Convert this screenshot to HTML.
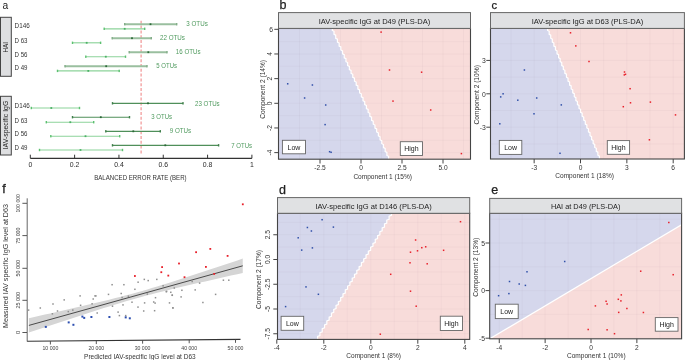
<!DOCTYPE html><html><head><meta charset="utf-8"><style>html,body{margin:0;padding:0;background:#fff;}svg{display:block;will-change:transform;}</style></head><body>
<svg width="685" height="360" viewBox="0 0 685 360" font-family='"Liberation Sans", sans-serif'>
<rect width="685" height="360" fill="#fff"/>
<text x="2.5" y="8.7" font-size="11.8" fill="#222" text-anchor="start" textLength="5.7" lengthAdjust="spacingAndGlyphs">a</text>
<rect x="0.5" y="17.3" width="10.8" height="59.0" fill="#dedfe1" stroke="#444" stroke-width="1"/>
<text x="8.2" y="47.2" font-size="7.0" fill="#222" text-anchor="middle" textLength="10.4" lengthAdjust="spacingAndGlyphs" transform="rotate(-90 8.2 47.2)">HAI</text>
<rect x="0.5" y="96.3" width="10.8" height="58.7" fill="#dedfe1" stroke="#444" stroke-width="1"/>
<text x="8.2" y="125.0" font-size="7.2" fill="#222" text-anchor="middle" textLength="48.6" lengthAdjust="spacingAndGlyphs" transform="rotate(-90 8.2 125.0)">IAV-specific IgG</text>
<text x="14.6" y="28.0" font-size="7.0" fill="#333" text-anchor="start" textLength="15.1" lengthAdjust="spacingAndGlyphs">D146</text>
<text x="14.6" y="42.8" font-size="7.0" fill="#333" text-anchor="start" textLength="12.9" lengthAdjust="spacingAndGlyphs">D 63</text>
<text x="14.6" y="56.7" font-size="7.0" fill="#333" text-anchor="start" textLength="12.9" lengthAdjust="spacingAndGlyphs">D 56</text>
<text x="14.6" y="70.0" font-size="7.0" fill="#333" text-anchor="start" textLength="12.9" lengthAdjust="spacingAndGlyphs">D 49</text>
<text x="14.6" y="108.0" font-size="7.0" fill="#333" text-anchor="start" textLength="15.1" lengthAdjust="spacingAndGlyphs">D146</text>
<text x="14.6" y="122.8" font-size="7.0" fill="#333" text-anchor="start" textLength="12.9" lengthAdjust="spacingAndGlyphs">D 63</text>
<text x="14.6" y="136.3" font-size="7.0" fill="#333" text-anchor="start" textLength="12.9" lengthAdjust="spacingAndGlyphs">D 56</text>
<text x="14.6" y="150.0" font-size="7.0" fill="#333" text-anchor="start" textLength="12.9" lengthAdjust="spacingAndGlyphs">D 49</text>
<line x1="30.3" y1="158.3" x2="251.9" y2="158.3" stroke="#333" stroke-width="1.3"/>
<line x1="30.3" y1="158.3" x2="30.3" y2="154.70000000000002" stroke="#333" stroke-width="1"/>
<text x="30.3" y="167.1" font-size="6.9" fill="#2a2a2a" text-anchor="middle">0</text>
<line x1="74.62" y1="158.3" x2="74.62" y2="154.70000000000002" stroke="#333" stroke-width="1"/>
<text x="74.62" y="167.1" font-size="6.9" fill="#2a2a2a" text-anchor="middle">0.2</text>
<line x1="118.94" y1="158.3" x2="118.94" y2="154.70000000000002" stroke="#333" stroke-width="1"/>
<text x="118.94" y="167.1" font-size="6.9" fill="#2a2a2a" text-anchor="middle">0.4</text>
<line x1="163.26" y1="158.3" x2="163.26" y2="154.70000000000002" stroke="#333" stroke-width="1"/>
<text x="163.26" y="167.1" font-size="6.9" fill="#2a2a2a" text-anchor="middle">0.6</text>
<line x1="207.58" y1="158.3" x2="207.58" y2="154.70000000000002" stroke="#333" stroke-width="1"/>
<text x="207.58" y="167.1" font-size="6.9" fill="#2a2a2a" text-anchor="middle">0.8</text>
<line x1="251.9" y1="158.3" x2="251.9" y2="154.70000000000002" stroke="#333" stroke-width="1"/>
<text x="251.9" y="167.1" font-size="6.9" fill="#2a2a2a" text-anchor="middle">1</text>
<text x="140.4" y="179.8" font-size="6.4" fill="#333" text-anchor="middle" textLength="92.5" lengthAdjust="spacingAndGlyphs">BALANCED ERROR RATE (BER)</text>
<line x1="141.1" y1="20.8" x2="141.1" y2="155" stroke="#f08a8a" stroke-width="1.1" stroke-dasharray="3 1.8"/>
<line x1="124.7" y1="24.2" x2="176.7" y2="24.2" stroke="#9abf9f" stroke-width="1.9"/>
<rect x="124.0" y="23.0" width="1.4" height="2.4" fill="#82ad88"/>
<rect x="176.0" y="23.0" width="1.4" height="2.4" fill="#82ad88"/>
<rect x="149.6" y="23.3" width="1.8" height="1.8" fill="#2e6b3a"/>
<line x1="104.2" y1="28.8" x2="144.7" y2="28.8" stroke="#8cd39a" stroke-width="1.15"/>
<rect x="103.5" y="27.6" width="1.4" height="2.4" fill="#5cc070"/>
<rect x="144.0" y="27.6" width="1.4" height="2.4" fill="#5cc070"/>
<rect x="123.8" y="27.900000000000002" width="1.8" height="1.8" fill="#4cb066"/>
<line x1="112.2" y1="38.2" x2="151.3" y2="38.2" stroke="#9abf9f" stroke-width="1.9"/>
<rect x="111.5" y="37.0" width="1.4" height="2.4" fill="#82ad88"/>
<rect x="150.60000000000002" y="37.0" width="1.4" height="2.4" fill="#82ad88"/>
<rect x="131.1" y="37.300000000000004" width="1.8" height="1.8" fill="#2e6b3a"/>
<line x1="72.5" y1="42.8" x2="100.6" y2="42.8" stroke="#8cd39a" stroke-width="1.15"/>
<rect x="71.8" y="41.599999999999994" width="1.4" height="2.4" fill="#5cc070"/>
<rect x="99.89999999999999" y="41.599999999999994" width="1.4" height="2.4" fill="#5cc070"/>
<rect x="85.8" y="41.9" width="1.8" height="1.8" fill="#4cb066"/>
<line x1="129.2" y1="52.2" x2="167.0" y2="52.2" stroke="#9abf9f" stroke-width="1.9"/>
<rect x="128.5" y="51.0" width="1.4" height="2.4" fill="#82ad88"/>
<rect x="166.3" y="51.0" width="1.4" height="2.4" fill="#82ad88"/>
<rect x="147.4" y="51.300000000000004" width="1.8" height="1.8" fill="#2e6b3a"/>
<line x1="85.8" y1="56.7" x2="125.5" y2="56.7" stroke="#8cd39a" stroke-width="1.15"/>
<rect x="85.1" y="55.5" width="1.4" height="2.4" fill="#5cc070"/>
<rect x="124.8" y="55.5" width="1.4" height="2.4" fill="#5cc070"/>
<rect x="104.89999999999999" y="55.800000000000004" width="1.8" height="1.8" fill="#4cb066"/>
<line x1="65.0" y1="66.2" x2="147.0" y2="66.2" stroke="#9abf9f" stroke-width="1.9"/>
<rect x="64.3" y="65.0" width="1.4" height="2.4" fill="#82ad88"/>
<rect x="146.3" y="65.0" width="1.4" height="2.4" fill="#82ad88"/>
<rect x="105.3" y="65.3" width="1.8" height="1.8" fill="#2e6b3a"/>
<line x1="57.5" y1="70.9" x2="119.2" y2="70.9" stroke="#8cd39a" stroke-width="1.15"/>
<rect x="56.8" y="69.7" width="1.4" height="2.4" fill="#5cc070"/>
<rect x="118.5" y="69.7" width="1.4" height="2.4" fill="#5cc070"/>
<rect x="87.39999999999999" y="70.0" width="1.8" height="1.8" fill="#4cb066"/>
<line x1="112.5" y1="103.3" x2="183.0" y2="103.3" stroke="#4f8f5a" stroke-width="1.15"/>
<rect x="111.8" y="102.1" width="1.4" height="2.4" fill="#3f7f4a"/>
<rect x="182.3" y="102.1" width="1.4" height="2.4" fill="#3f7f4a"/>
<rect x="147.1" y="102.39999999999999" width="1.8" height="1.8" fill="#2a6636"/>
<line x1="31.3" y1="108.0" x2="79.5" y2="108.0" stroke="#8cd39a" stroke-width="1.15"/>
<rect x="30.6" y="106.8" width="1.4" height="2.4" fill="#5cc070"/>
<rect x="78.8" y="106.8" width="1.4" height="2.4" fill="#5cc070"/>
<rect x="50.4" y="107.1" width="1.8" height="1.8" fill="#4cb066"/>
<line x1="72.5" y1="117.2" x2="129.5" y2="117.2" stroke="#4f8f5a" stroke-width="1.15"/>
<rect x="71.8" y="116.0" width="1.4" height="2.4" fill="#3f7f4a"/>
<rect x="128.8" y="116.0" width="1.4" height="2.4" fill="#3f7f4a"/>
<rect x="99.89999999999999" y="116.3" width="1.8" height="1.8" fill="#2a6636"/>
<line x1="46.3" y1="122.2" x2="93.7" y2="122.2" stroke="#8cd39a" stroke-width="1.15"/>
<rect x="45.599999999999994" y="121.0" width="1.4" height="2.4" fill="#5cc070"/>
<rect x="93.0" y="121.0" width="1.4" height="2.4" fill="#5cc070"/>
<rect x="69.39999999999999" y="121.3" width="1.8" height="1.8" fill="#4cb066"/>
<line x1="105.8" y1="131.3" x2="160.3" y2="131.3" stroke="#4f8f5a" stroke-width="1.15"/>
<rect x="105.1" y="130.10000000000002" width="1.4" height="2.4" fill="#3f7f4a"/>
<rect x="159.60000000000002" y="130.10000000000002" width="1.4" height="2.4" fill="#3f7f4a"/>
<rect x="132.4" y="130.4" width="1.8" height="1.8" fill="#2a6636"/>
<line x1="50.8" y1="136.2" x2="119.7" y2="136.2" stroke="#8cd39a" stroke-width="1.15"/>
<rect x="50.099999999999994" y="135.0" width="1.4" height="2.4" fill="#5cc070"/>
<rect x="119.0" y="135.0" width="1.4" height="2.4" fill="#5cc070"/>
<rect x="84.6" y="135.29999999999998" width="1.8" height="1.8" fill="#4cb066"/>
<line x1="112.5" y1="145.3" x2="218.6" y2="145.3" stroke="#4f8f5a" stroke-width="1.15"/>
<rect x="111.8" y="144.10000000000002" width="1.4" height="2.4" fill="#3f7f4a"/>
<rect x="217.9" y="144.10000000000002" width="1.4" height="2.4" fill="#3f7f4a"/>
<rect x="164.4" y="144.4" width="1.8" height="1.8" fill="#2a6636"/>
<line x1="39.5" y1="150.0" x2="122.5" y2="150.0" stroke="#8cd39a" stroke-width="1.15"/>
<rect x="38.8" y="148.8" width="1.4" height="2.4" fill="#5cc070"/>
<rect x="121.8" y="148.8" width="1.4" height="2.4" fill="#5cc070"/>
<rect x="79.6" y="149.1" width="1.8" height="1.8" fill="#4cb066"/>
<text x="186.3" y="26.099999999999998" font-size="6.7" fill="#4f9a5e" text-anchor="start" textLength="21.5" lengthAdjust="spacingAndGlyphs">3 OTUs</text>
<text x="160.0" y="40.0" font-size="6.7" fill="#4f9a5e" text-anchor="start" textLength="25.0" lengthAdjust="spacingAndGlyphs">22 OTUs</text>
<text x="175.8" y="53.9" font-size="6.7" fill="#4f9a5e" text-anchor="start" textLength="24.7" lengthAdjust="spacingAndGlyphs">16 OTUs</text>
<text x="156.3" y="68.30000000000001" font-size="6.7" fill="#4f9a5e" text-anchor="start" textLength="20.7" lengthAdjust="spacingAndGlyphs">5 OTUs</text>
<text x="195.0" y="105.7" font-size="6.7" fill="#4f9a5e" text-anchor="start" textLength="24.7" lengthAdjust="spacingAndGlyphs">23 OTUs</text>
<text x="151.3" y="119.10000000000001" font-size="6.7" fill="#4f9a5e" text-anchor="start" textLength="20.7" lengthAdjust="spacingAndGlyphs">3 OTUs</text>
<text x="169.7" y="133.1" font-size="6.7" fill="#4f9a5e" text-anchor="start" textLength="21.5" lengthAdjust="spacingAndGlyphs">9 OTUs</text>
<text x="231.3" y="147.6" font-size="6.7" fill="#4f9a5e" text-anchor="start" textLength="20.8" lengthAdjust="spacingAndGlyphs">7 OTUs</text>
<text x="279.6" y="9.0" font-size="12.5" fill="#222" text-anchor="start" stroke="#222" stroke-width="0.25">b</text>
<clipPath id="cb"><rect x="278.5" y="28.4" width="192.0" height="130.79999999999998"/></clipPath>
<g clip-path="url(#cb)">
<rect x="278.5" y="28.4" width="192.0" height="130.79999999999998" fill="#f8dcda"/>
<polygon points="278.50,27.40 332.30,27.40 332.30,30.45 334.01,31.31 334.01,34.35 335.71,35.21 335.71,38.26 337.42,39.12 337.42,42.16 339.12,43.02 339.12,46.07 340.83,46.93 340.83,49.98 342.54,50.84 342.54,53.88 344.24,54.74 344.24,57.79 345.95,58.65 345.95,61.69 347.65,62.55 347.65,65.60 349.36,66.46 349.36,69.51 351.06,70.36 351.06,73.41 352.77,74.27 352.77,77.32 354.48,78.18 354.48,81.22 356.18,82.08 356.18,85.13 357.89,85.99 357.89,89.03 359.59,89.89 359.59,92.94 361.30,93.80 361.30,96.85 363.01,97.71 363.01,100.75 364.71,101.61 364.71,104.66 366.42,105.52 366.42,108.56 368.12,109.42 368.12,112.47 369.83,113.33 369.83,116.38 371.54,117.24 371.54,120.28 373.24,121.14 373.24,124.19 374.95,125.05 374.95,128.09 376.65,128.95 376.65,132.00 378.36,132.86 378.36,135.91 380.06,136.76 380.06,139.81 381.77,140.67 381.77,143.72 383.48,144.58 383.48,147.62 385.18,148.48 385.18,151.53 386.89,152.39 386.89,155.43 388.59,156.29 388.59,159.34 390.30,160.20 278.50,160.20" fill="#d5d7ec"/>
<line x1="299.50" y1="28.4" x2="299.50" y2="159.2" stroke="rgba(110,100,110,0.055)" stroke-width="0.8"/>
<line x1="320.00" y1="28.4" x2="320.00" y2="159.2" stroke="rgba(110,100,110,0.055)" stroke-width="0.8"/>
<line x1="340.50" y1="28.4" x2="340.50" y2="159.2" stroke="rgba(110,100,110,0.055)" stroke-width="0.8"/>
<line x1="361.00" y1="28.4" x2="361.00" y2="159.2" stroke="rgba(110,100,110,0.055)" stroke-width="0.8"/>
<line x1="381.50" y1="28.4" x2="381.50" y2="159.2" stroke="rgba(110,100,110,0.055)" stroke-width="0.8"/>
<line x1="402.00" y1="28.4" x2="402.00" y2="159.2" stroke="rgba(110,100,110,0.055)" stroke-width="0.8"/>
<line x1="422.50" y1="28.4" x2="422.50" y2="159.2" stroke="rgba(110,100,110,0.055)" stroke-width="0.8"/>
<line x1="443.00" y1="28.4" x2="443.00" y2="159.2" stroke="rgba(110,100,110,0.055)" stroke-width="0.8"/>
<line x1="463.50" y1="28.4" x2="463.50" y2="159.2" stroke="rgba(110,100,110,0.055)" stroke-width="0.8"/>
<line x1="278.5" y1="164.95" x2="470.5" y2="164.95" stroke="rgba(110,100,110,0.055)" stroke-width="0.8"/>
<line x1="278.5" y1="152.62" x2="470.5" y2="152.62" stroke="rgba(110,100,110,0.055)" stroke-width="0.8"/>
<line x1="278.5" y1="140.29" x2="470.5" y2="140.29" stroke="rgba(110,100,110,0.055)" stroke-width="0.8"/>
<line x1="278.5" y1="127.96" x2="470.5" y2="127.96" stroke="rgba(110,100,110,0.055)" stroke-width="0.8"/>
<line x1="278.5" y1="115.63" x2="470.5" y2="115.63" stroke="rgba(110,100,110,0.055)" stroke-width="0.8"/>
<line x1="278.5" y1="103.30" x2="470.5" y2="103.30" stroke="rgba(110,100,110,0.055)" stroke-width="0.8"/>
<line x1="278.5" y1="90.97" x2="470.5" y2="90.97" stroke="rgba(110,100,110,0.055)" stroke-width="0.8"/>
<line x1="278.5" y1="78.64" x2="470.5" y2="78.64" stroke="rgba(110,100,110,0.055)" stroke-width="0.8"/>
<line x1="278.5" y1="66.31" x2="470.5" y2="66.31" stroke="rgba(110,100,110,0.055)" stroke-width="0.8"/>
<line x1="278.5" y1="53.98" x2="470.5" y2="53.98" stroke="rgba(110,100,110,0.055)" stroke-width="0.8"/>
<line x1="278.5" y1="41.65" x2="470.5" y2="41.65" stroke="rgba(110,100,110,0.055)" stroke-width="0.8"/>
<line x1="278.5" y1="29.32" x2="470.5" y2="29.32" stroke="rgba(110,100,110,0.055)" stroke-width="0.8"/>
<polyline points="332.30,27.40 332.30,30.45 334.01,31.31 334.01,34.35 335.71,35.21 335.71,38.26 337.42,39.12 337.42,42.16 339.12,43.02 339.12,46.07 340.83,46.93 340.83,49.98 342.54,50.84 342.54,53.88 344.24,54.74 344.24,57.79 345.95,58.65 345.95,61.69 347.65,62.55 347.65,65.60 349.36,66.46 349.36,69.51 351.06,70.36 351.06,73.41 352.77,74.27 352.77,77.32 354.48,78.18 354.48,81.22 356.18,82.08 356.18,85.13 357.89,85.99 357.89,89.03 359.59,89.89 359.59,92.94 361.30,93.80 361.30,96.85 363.01,97.71 363.01,100.75 364.71,101.61 364.71,104.66 366.42,105.52 366.42,108.56 368.12,109.42 368.12,112.47 369.83,113.33 369.83,116.38 371.54,117.24 371.54,120.28 373.24,121.14 373.24,124.19 374.95,125.05 374.95,128.09 376.65,128.95 376.65,132.00 378.36,132.86 378.36,135.91 380.06,136.76 380.06,139.81 381.77,140.67 381.77,143.72 383.48,144.58 383.48,147.62 385.18,148.48 385.18,151.53 386.89,152.39 386.89,155.43 388.59,156.29 388.59,159.34 390.30,160.20" fill="none" stroke="#fff" stroke-width="1.2" stroke-linejoin="miter"/>
<rect x="286.95" y="83.05" width="1.5" height="1.5" fill="#2f4fa8"/>
<rect x="311.65" y="84.25" width="1.5" height="1.5" fill="#2f4fa8"/>
<rect x="303.85" y="97.25" width="1.5" height="1.5" fill="#2f4fa8"/>
<rect x="324.95" y="104.25" width="1.5" height="1.5" fill="#2f4fa8"/>
<rect x="324.35" y="123.85" width="1.5" height="1.5" fill="#2f4fa8"/>
<rect x="328.85" y="150.95" width="1.5" height="1.5" fill="#2f4fa8"/>
<rect x="330.35" y="151.55" width="1.5" height="1.5" fill="#2f4fa8"/>
<rect x="380.35" y="31.35" width="1.5" height="1.5" fill="#e8202a"/>
<rect x="388.75" y="69.25" width="1.5" height="1.5" fill="#e8202a"/>
<rect x="420.85" y="71.45" width="1.5" height="1.5" fill="#e8202a"/>
<rect x="392.25" y="100.35" width="1.5" height="1.5" fill="#e8202a"/>
<rect x="429.95" y="109.25" width="1.5" height="1.5" fill="#e8202a"/>
<rect x="460.65" y="152.85" width="1.5" height="1.5" fill="#e8202a"/>
<rect x="282.4" y="140.3" width="23.100000000000023" height="13.5" fill="#fff" stroke="#666" stroke-width="0.9"/>
<text x="293.95" y="149.55" font-size="7.0" fill="#222" text-anchor="middle">Low</text>
<rect x="400.3" y="141.7" width="22.19999999999999" height="13.800000000000011" fill="#fff" stroke="#666" stroke-width="0.9"/>
<text x="411.4" y="151.1" font-size="7.0" fill="#222" text-anchor="middle">High</text>
</g>
<rect x="278.5" y="28.4" width="192.0" height="130.79999999999998" fill="none" stroke="#444" stroke-width="1.1"/>
<rect x="278.5" y="12.6" width="192.0" height="15.799999999999999" fill="#e0e1e3" stroke="#666" stroke-width="1"/>
<text x="374.5" y="23.6" font-size="7.7" fill="#222" text-anchor="middle" textLength="111.7" lengthAdjust="spacingAndGlyphs">IAV-specific IgG at D49 (PLS-DA)</text>
<line x1="320.00" y1="159.2" x2="320.00" y2="163.5" stroke="#444" stroke-width="1"/>
<text x="320.0" y="170.0" font-size="6.6" fill="#333" text-anchor="middle">-2.5</text>
<line x1="361.00" y1="159.2" x2="361.00" y2="163.5" stroke="#444" stroke-width="1"/>
<text x="361.0" y="170.0" font-size="6.6" fill="#333" text-anchor="middle">0</text>
<line x1="402.00" y1="159.2" x2="402.00" y2="163.5" stroke="#444" stroke-width="1"/>
<text x="402.0" y="170.0" font-size="6.6" fill="#333" text-anchor="middle">2.5</text>
<line x1="443.00" y1="159.2" x2="443.00" y2="163.5" stroke="#444" stroke-width="1"/>
<text x="443.0" y="170.0" font-size="6.6" fill="#333" text-anchor="middle">5.0</text>
<line x1="274.3" y1="29.32" x2="278.5" y2="29.32" stroke="#444" stroke-width="1"/>
<text x="273.1" y="32.02" font-size="6.8" fill="#333" text-anchor="end">6</text>
<line x1="274.3" y1="53.98" x2="278.5" y2="53.98" stroke="#444" stroke-width="1"/>
<text x="272.2" y="53.98" font-size="6.6" fill="#333" text-anchor="middle" transform="rotate(-90 272.2 53.98)">4</text>
<line x1="274.3" y1="78.64" x2="278.5" y2="78.64" stroke="#444" stroke-width="1"/>
<text x="272.2" y="78.64" font-size="6.6" fill="#333" text-anchor="middle" transform="rotate(-90 272.2 78.64)">2</text>
<line x1="274.3" y1="103.30" x2="278.5" y2="103.30" stroke="#444" stroke-width="1"/>
<text x="272.2" y="103.3" font-size="6.6" fill="#333" text-anchor="middle" transform="rotate(-90 272.2 103.3)">0</text>
<line x1="274.3" y1="127.96" x2="278.5" y2="127.96" stroke="#444" stroke-width="1"/>
<text x="272.2" y="127.96" font-size="6.6" fill="#333" text-anchor="middle" transform="rotate(-90 272.2 127.96)">-2</text>
<line x1="274.3" y1="152.62" x2="278.5" y2="152.62" stroke="#444" stroke-width="1"/>
<text x="272.2" y="152.62" font-size="6.6" fill="#333" text-anchor="middle" transform="rotate(-90 272.2 152.62)">-4</text>
<text x="382.7" y="178.8" font-size="7.2" fill="#333" text-anchor="middle" textLength="58.6" lengthAdjust="spacingAndGlyphs">Component 1 (15%)</text>
<text x="265.3" y="89.4" font-size="7.2" fill="#333" text-anchor="middle" textLength="58.8" lengthAdjust="spacingAndGlyphs" transform="rotate(-90 265.3 89.4)">Component 2 (14%)</text>
<text x="491.5" y="9.2" font-size="11.2" fill="#222" text-anchor="start" stroke="#222" stroke-width="0.25">c</text>
<clipPath id="cc"><rect x="490.5" y="28.4" width="193.89999999999998" height="130.6"/></clipPath>
<g clip-path="url(#cc)">
<rect x="490.5" y="28.4" width="193.89999999999998" height="130.6" fill="#f8dcda"/>
<polygon points="490.50,27.40 547.60,27.40 547.60,30.44 549.17,31.30 549.17,34.34 550.74,35.20 550.74,38.24 552.31,39.10 552.31,42.14 553.88,43.00 553.88,46.04 555.45,46.90 555.45,49.94 557.02,50.80 557.02,53.84 558.59,54.70 558.59,57.74 560.16,58.60 560.16,61.64 561.74,62.50 561.74,65.54 563.31,66.40 563.31,69.44 564.88,70.30 564.88,73.34 566.45,74.20 566.45,77.24 568.02,78.10 568.02,81.14 569.59,82.00 569.59,85.04 571.16,85.90 571.16,88.94 572.73,89.80 572.73,92.84 574.30,93.70 574.30,96.74 575.87,97.60 575.87,100.64 577.44,101.50 577.44,104.54 579.01,105.40 579.01,108.44 580.58,109.30 580.58,112.34 582.15,113.20 582.15,116.24 583.72,117.10 583.72,120.14 585.29,121.00 585.29,124.04 586.86,124.90 586.86,127.94 588.44,128.80 588.44,131.84 590.01,132.70 590.01,135.74 591.58,136.60 591.58,139.64 593.15,140.50 593.15,143.54 594.72,144.40 594.72,147.44 596.29,148.30 596.29,151.34 597.86,152.20 597.86,155.24 599.43,156.10 599.43,159.14 601.00,160.00 490.50,160.00" fill="#d5d7ec"/>
<line x1="510.98" y1="28.4" x2="510.98" y2="159.0" stroke="rgba(110,100,110,0.055)" stroke-width="0.8"/>
<line x1="534.15" y1="28.4" x2="534.15" y2="159.0" stroke="rgba(110,100,110,0.055)" stroke-width="0.8"/>
<line x1="557.33" y1="28.4" x2="557.33" y2="159.0" stroke="rgba(110,100,110,0.055)" stroke-width="0.8"/>
<line x1="580.50" y1="28.4" x2="580.50" y2="159.0" stroke="rgba(110,100,110,0.055)" stroke-width="0.8"/>
<line x1="603.67" y1="28.4" x2="603.67" y2="159.0" stroke="rgba(110,100,110,0.055)" stroke-width="0.8"/>
<line x1="626.85" y1="28.4" x2="626.85" y2="159.0" stroke="rgba(110,100,110,0.055)" stroke-width="0.8"/>
<line x1="650.02" y1="28.4" x2="650.02" y2="159.0" stroke="rgba(110,100,110,0.055)" stroke-width="0.8"/>
<line x1="673.20" y1="28.4" x2="673.20" y2="159.0" stroke="rgba(110,100,110,0.055)" stroke-width="0.8"/>
<line x1="490.5" y1="160.58" x2="684.4" y2="160.58" stroke="rgba(110,100,110,0.055)" stroke-width="0.8"/>
<line x1="490.5" y1="143.88" x2="684.4" y2="143.88" stroke="rgba(110,100,110,0.055)" stroke-width="0.8"/>
<line x1="490.5" y1="127.19" x2="684.4" y2="127.19" stroke="rgba(110,100,110,0.055)" stroke-width="0.8"/>
<line x1="490.5" y1="110.50" x2="684.4" y2="110.50" stroke="rgba(110,100,110,0.055)" stroke-width="0.8"/>
<line x1="490.5" y1="93.80" x2="684.4" y2="93.80" stroke="rgba(110,100,110,0.055)" stroke-width="0.8"/>
<line x1="490.5" y1="77.10" x2="684.4" y2="77.10" stroke="rgba(110,100,110,0.055)" stroke-width="0.8"/>
<line x1="490.5" y1="60.41" x2="684.4" y2="60.41" stroke="rgba(110,100,110,0.055)" stroke-width="0.8"/>
<line x1="490.5" y1="43.71" x2="684.4" y2="43.71" stroke="rgba(110,100,110,0.055)" stroke-width="0.8"/>
<line x1="490.5" y1="27.02" x2="684.4" y2="27.02" stroke="rgba(110,100,110,0.055)" stroke-width="0.8"/>
<polyline points="547.60,27.40 547.60,30.44 549.17,31.30 549.17,34.34 550.74,35.20 550.74,38.24 552.31,39.10 552.31,42.14 553.88,43.00 553.88,46.04 555.45,46.90 555.45,49.94 557.02,50.80 557.02,53.84 558.59,54.70 558.59,57.74 560.16,58.60 560.16,61.64 561.74,62.50 561.74,65.54 563.31,66.40 563.31,69.44 564.88,70.30 564.88,73.34 566.45,74.20 566.45,77.24 568.02,78.10 568.02,81.14 569.59,82.00 569.59,85.04 571.16,85.90 571.16,88.94 572.73,89.80 572.73,92.84 574.30,93.70 574.30,96.74 575.87,97.60 575.87,100.64 577.44,101.50 577.44,104.54 579.01,105.40 579.01,108.44 580.58,109.30 580.58,112.34 582.15,113.20 582.15,116.24 583.72,117.10 583.72,120.14 585.29,121.00 585.29,124.04 586.86,124.90 586.86,127.94 588.44,128.80 588.44,131.84 590.01,132.70 590.01,135.74 591.58,136.60 591.58,139.64 593.15,140.50 593.15,143.54 594.72,144.40 594.72,147.44 596.29,148.30 596.29,151.34 597.86,152.20 597.86,155.24 599.43,156.10 599.43,159.14 601.00,160.00" fill="none" stroke="#fff" stroke-width="1.2" stroke-linejoin="miter"/>
<rect x="523.65" y="69.25" width="1.5" height="1.5" fill="#2f4fa8"/>
<rect x="502.35" y="93.05" width="1.5" height="1.5" fill="#2f4fa8"/>
<rect x="499.95" y="96.15" width="1.5" height="1.5" fill="#2f4fa8"/>
<rect x="517.05" y="99.45" width="1.5" height="1.5" fill="#2f4fa8"/>
<rect x="535.95" y="97.25" width="1.5" height="1.5" fill="#2f4fa8"/>
<rect x="560.55" y="104.15" width="1.5" height="1.5" fill="#2f4fa8"/>
<rect x="533.25" y="113.05" width="1.5" height="1.5" fill="#2f4fa8"/>
<rect x="499.05" y="123.05" width="1.5" height="1.5" fill="#2f4fa8"/>
<rect x="559.25" y="152.55" width="1.5" height="1.5" fill="#2f4fa8"/>
<rect x="569.75" y="32.05" width="1.5" height="1.5" fill="#e8202a"/>
<rect x="575.05" y="45.15" width="1.5" height="1.5" fill="#e8202a"/>
<rect x="588.25" y="60.75" width="1.5" height="1.5" fill="#e8202a"/>
<rect x="623.75" y="71.25" width="1.5" height="1.5" fill="#e8202a"/>
<rect x="624.75" y="73.55" width="1.5" height="1.5" fill="#e8202a"/>
<rect x="623.55" y="74.15" width="1.5" height="1.5" fill="#e8202a"/>
<rect x="629.35" y="87.95" width="1.5" height="1.5" fill="#e8202a"/>
<rect x="622.55" y="105.95" width="1.5" height="1.5" fill="#e8202a"/>
<rect x="629.75" y="102.05" width="1.5" height="1.5" fill="#e8202a"/>
<rect x="649.65" y="101.35" width="1.5" height="1.5" fill="#e8202a"/>
<rect x="674.75" y="114.15" width="1.5" height="1.5" fill="#e8202a"/>
<rect x="648.65" y="139.05" width="1.5" height="1.5" fill="#e8202a"/>
<rect x="499.3" y="140.4" width="22.499999999999943" height="14.0" fill="#fff" stroke="#666" stroke-width="0.9"/>
<text x="510.54999999999995" y="149.9" font-size="7.0" fill="#222" text-anchor="middle">Low</text>
<rect x="607.3" y="140.6" width="22.300000000000068" height="13.700000000000017" fill="#fff" stroke="#666" stroke-width="0.9"/>
<text x="618.45" y="149.95" font-size="7.0" fill="#222" text-anchor="middle">High</text>
</g>
<rect x="490.5" y="28.4" width="193.89999999999998" height="130.6" fill="none" stroke="#444" stroke-width="1.1"/>
<rect x="490.5" y="12.6" width="193.89999999999998" height="15.799999999999999" fill="#e0e1e3" stroke="#666" stroke-width="1"/>
<text x="587.45" y="23.6" font-size="7.7" fill="#222" text-anchor="middle" textLength="111.6" lengthAdjust="spacingAndGlyphs">IAV-specific IgG at D63 (PLS-DA)</text>
<line x1="534.15" y1="159.0" x2="534.15" y2="163.3" stroke="#444" stroke-width="1"/>
<text x="534.15" y="169.8" font-size="6.6" fill="#333" text-anchor="middle">-3</text>
<line x1="580.50" y1="159.0" x2="580.50" y2="163.3" stroke="#444" stroke-width="1"/>
<text x="580.5" y="169.8" font-size="6.6" fill="#333" text-anchor="middle">0</text>
<line x1="626.85" y1="159.0" x2="626.85" y2="163.3" stroke="#444" stroke-width="1"/>
<text x="626.85" y="169.8" font-size="6.6" fill="#333" text-anchor="middle">3</text>
<line x1="673.20" y1="159.0" x2="673.20" y2="163.3" stroke="#444" stroke-width="1"/>
<text x="673.2" y="169.8" font-size="6.6" fill="#333" text-anchor="middle">6</text>
<line x1="486.3" y1="60.41" x2="490.5" y2="60.41" stroke="#444" stroke-width="1"/>
<text x="485.9" y="63.11" font-size="6.8" fill="#333" text-anchor="end">3</text>
<line x1="486.3" y1="93.80" x2="490.5" y2="93.80" stroke="#444" stroke-width="1"/>
<text x="485.9" y="96.5" font-size="6.8" fill="#333" text-anchor="end">0</text>
<line x1="486.3" y1="127.19" x2="490.5" y2="127.19" stroke="#444" stroke-width="1"/>
<text x="485.9" y="129.89" font-size="6.8" fill="#333" text-anchor="end">-3</text>
<text x="584.6" y="178.4" font-size="7.2" fill="#333" text-anchor="middle" textLength="58.6" lengthAdjust="spacingAndGlyphs">Component 1 (18%)</text>
<text x="479.5" y="94.8" font-size="7.2" fill="#333" text-anchor="middle" textLength="59.3" lengthAdjust="spacingAndGlyphs" transform="rotate(-90 479.5 94.8)">Component 2 (10%)</text>
<text x="279.0" y="193.8" font-size="12.5" fill="#222" text-anchor="start" stroke="#222" stroke-width="0.25">d</text>
<clipPath id="cd"><rect x="277.5" y="213.3" width="192.2" height="126.09999999999997"/></clipPath>
<g clip-path="url(#cd)">
<rect x="277.5" y="213.3" width="192.2" height="126.09999999999997" fill="#f8dcda"/>
<polygon points="277.50,212.30 391.40,212.30 391.40,215.33 389.09,216.18 389.09,219.21 386.79,220.06 386.79,223.09 384.48,223.95 384.48,226.97 382.18,227.83 382.18,230.86 379.87,231.71 379.87,234.74 377.56,235.59 377.56,238.62 375.26,239.47 375.26,242.50 372.95,243.35 372.95,246.38 370.65,247.24 370.65,250.26 368.34,251.12 368.34,254.15 366.03,255.00 366.03,258.03 363.73,258.88 363.73,261.91 361.42,262.76 361.42,265.79 359.12,266.65 359.12,269.67 356.81,270.53 356.81,273.56 354.50,274.41 354.50,277.44 352.20,278.29 352.20,281.32 349.89,282.17 349.89,285.20 347.58,286.05 347.58,289.08 345.28,289.94 345.28,292.96 342.97,293.82 342.97,296.85 340.67,297.70 340.67,300.73 338.36,301.58 338.36,304.61 336.05,305.46 336.05,308.49 333.75,309.35 333.75,312.37 331.44,313.23 331.44,316.26 329.14,317.11 329.14,320.14 326.83,320.99 326.83,324.02 324.52,324.87 324.52,327.90 322.22,328.75 322.22,331.78 319.91,332.64 319.91,335.66 317.61,336.52 317.61,339.55 315.30,340.40 277.50,340.40" fill="#d5d7ec"/>
<line x1="276.80" y1="213.3" x2="276.80" y2="339.4" stroke="rgba(110,100,110,0.055)" stroke-width="0.8"/>
<line x1="300.30" y1="213.3" x2="300.30" y2="339.4" stroke="rgba(110,100,110,0.055)" stroke-width="0.8"/>
<line x1="323.80" y1="213.3" x2="323.80" y2="339.4" stroke="rgba(110,100,110,0.055)" stroke-width="0.8"/>
<line x1="347.30" y1="213.3" x2="347.30" y2="339.4" stroke="rgba(110,100,110,0.055)" stroke-width="0.8"/>
<line x1="370.80" y1="213.3" x2="370.80" y2="339.4" stroke="rgba(110,100,110,0.055)" stroke-width="0.8"/>
<line x1="394.30" y1="213.3" x2="394.30" y2="339.4" stroke="rgba(110,100,110,0.055)" stroke-width="0.8"/>
<line x1="417.80" y1="213.3" x2="417.80" y2="339.4" stroke="rgba(110,100,110,0.055)" stroke-width="0.8"/>
<line x1="441.30" y1="213.3" x2="441.30" y2="339.4" stroke="rgba(110,100,110,0.055)" stroke-width="0.8"/>
<line x1="464.80" y1="213.3" x2="464.80" y2="339.4" stroke="rgba(110,100,110,0.055)" stroke-width="0.8"/>
<line x1="277.5" y1="333.75" x2="469.7" y2="333.75" stroke="rgba(110,100,110,0.055)" stroke-width="0.8"/>
<line x1="277.5" y1="321.38" x2="469.7" y2="321.38" stroke="rgba(110,100,110,0.055)" stroke-width="0.8"/>
<line x1="277.5" y1="309.00" x2="469.7" y2="309.00" stroke="rgba(110,100,110,0.055)" stroke-width="0.8"/>
<line x1="277.5" y1="296.62" x2="469.7" y2="296.62" stroke="rgba(110,100,110,0.055)" stroke-width="0.8"/>
<line x1="277.5" y1="284.25" x2="469.7" y2="284.25" stroke="rgba(110,100,110,0.055)" stroke-width="0.8"/>
<line x1="277.5" y1="271.88" x2="469.7" y2="271.88" stroke="rgba(110,100,110,0.055)" stroke-width="0.8"/>
<line x1="277.5" y1="259.50" x2="469.7" y2="259.50" stroke="rgba(110,100,110,0.055)" stroke-width="0.8"/>
<line x1="277.5" y1="247.12" x2="469.7" y2="247.12" stroke="rgba(110,100,110,0.055)" stroke-width="0.8"/>
<line x1="277.5" y1="234.75" x2="469.7" y2="234.75" stroke="rgba(110,100,110,0.055)" stroke-width="0.8"/>
<line x1="277.5" y1="222.38" x2="469.7" y2="222.38" stroke="rgba(110,100,110,0.055)" stroke-width="0.8"/>
<line x1="277.5" y1="210.00" x2="469.7" y2="210.00" stroke="rgba(110,100,110,0.055)" stroke-width="0.8"/>
<polyline points="391.40,212.30 391.40,215.33 389.09,216.18 389.09,219.21 386.79,220.06 386.79,223.09 384.48,223.95 384.48,226.97 382.18,227.83 382.18,230.86 379.87,231.71 379.87,234.74 377.56,235.59 377.56,238.62 375.26,239.47 375.26,242.50 372.95,243.35 372.95,246.38 370.65,247.24 370.65,250.26 368.34,251.12 368.34,254.15 366.03,255.00 366.03,258.03 363.73,258.88 363.73,261.91 361.42,262.76 361.42,265.79 359.12,266.65 359.12,269.67 356.81,270.53 356.81,273.56 354.50,274.41 354.50,277.44 352.20,278.29 352.20,281.32 349.89,282.17 349.89,285.20 347.58,286.05 347.58,289.08 345.28,289.94 345.28,292.96 342.97,293.82 342.97,296.85 340.67,297.70 340.67,300.73 338.36,301.58 338.36,304.61 336.05,305.46 336.05,308.49 333.75,309.35 333.75,312.37 331.44,313.23 331.44,316.26 329.14,317.11 329.14,320.14 326.83,320.99 326.83,324.02 324.52,324.87 324.52,327.90 322.22,328.75 322.22,331.78 319.91,332.64 319.91,335.66 317.61,336.52 317.61,339.55 315.30,340.40" fill="none" stroke="#fff" stroke-width="1.2" stroke-linejoin="miter"/>
<rect x="321.35" y="218.95" width="1.5" height="1.5" fill="#2f4fa8"/>
<rect x="306.65" y="226.75" width="1.5" height="1.5" fill="#2f4fa8"/>
<rect x="332.65" y="226.35" width="1.5" height="1.5" fill="#2f4fa8"/>
<rect x="310.65" y="230.25" width="1.5" height="1.5" fill="#2f4fa8"/>
<rect x="297.45" y="237.05" width="1.5" height="1.5" fill="#2f4fa8"/>
<rect x="300.95" y="249.35" width="1.5" height="1.5" fill="#2f4fa8"/>
<rect x="311.65" y="247.15" width="1.5" height="1.5" fill="#2f4fa8"/>
<rect x="305.25" y="286.15" width="1.5" height="1.5" fill="#2f4fa8"/>
<rect x="317.65" y="293.55" width="1.5" height="1.5" fill="#2f4fa8"/>
<rect x="284.85" y="305.85" width="1.5" height="1.5" fill="#2f4fa8"/>
<rect x="459.75" y="220.95" width="1.5" height="1.5" fill="#e8202a"/>
<rect x="414.85" y="239.25" width="1.5" height="1.5" fill="#e8202a"/>
<rect x="409.75" y="251.45" width="1.5" height="1.5" fill="#e8202a"/>
<rect x="416.75" y="250.05" width="1.5" height="1.5" fill="#e8202a"/>
<rect x="421.05" y="246.95" width="1.5" height="1.5" fill="#e8202a"/>
<rect x="424.95" y="246.05" width="1.5" height="1.5" fill="#e8202a"/>
<rect x="442.85" y="249.55" width="1.5" height="1.5" fill="#e8202a"/>
<rect x="409.25" y="262.05" width="1.5" height="1.5" fill="#e8202a"/>
<rect x="426.45" y="263.05" width="1.5" height="1.5" fill="#e8202a"/>
<rect x="389.95" y="273.55" width="1.5" height="1.5" fill="#e8202a"/>
<rect x="409.75" y="290.45" width="1.5" height="1.5" fill="#e8202a"/>
<rect x="415.45" y="305.45" width="1.5" height="1.5" fill="#e8202a"/>
<rect x="379.55" y="333.45" width="1.5" height="1.5" fill="#e8202a"/>
<rect x="281.1" y="316.3" width="22.599999999999966" height="14.0" fill="#fff" stroke="#666" stroke-width="0.9"/>
<text x="292.4" y="325.8" font-size="7.0" fill="#222" text-anchor="middle">Low</text>
<rect x="440.3" y="316.2" width="22.19999999999999" height="14.300000000000011" fill="#fff" stroke="#666" stroke-width="0.9"/>
<text x="451.4" y="325.85" font-size="7.0" fill="#222" text-anchor="middle">High</text>
</g>
<rect x="277.5" y="213.3" width="192.2" height="126.09999999999997" fill="none" stroke="#444" stroke-width="1.1"/>
<rect x="277.5" y="197.6" width="192.2" height="15.700000000000017" fill="#e0e1e3" stroke="#666" stroke-width="1"/>
<text x="373.6" y="208.54999999999998" font-size="7.7" fill="#222" text-anchor="middle" textLength="116.2" lengthAdjust="spacingAndGlyphs">IAV-specific IgG at D146 (PLS-DA)</text>
<line x1="276.80" y1="339.4" x2="276.80" y2="343.7" stroke="#444" stroke-width="1"/>
<text x="276.8" y="350.2" font-size="6.6" fill="#333" text-anchor="middle">-4</text>
<line x1="323.80" y1="339.4" x2="323.80" y2="343.7" stroke="#444" stroke-width="1"/>
<text x="323.8" y="350.2" font-size="6.6" fill="#333" text-anchor="middle">-2</text>
<line x1="370.80" y1="339.4" x2="370.80" y2="343.7" stroke="#444" stroke-width="1"/>
<text x="370.8" y="350.2" font-size="6.6" fill="#333" text-anchor="middle">0</text>
<line x1="417.80" y1="339.4" x2="417.80" y2="343.7" stroke="#444" stroke-width="1"/>
<text x="417.8" y="350.2" font-size="6.6" fill="#333" text-anchor="middle">2</text>
<line x1="464.80" y1="339.4" x2="464.80" y2="343.7" stroke="#444" stroke-width="1"/>
<text x="464.8" y="350.2" font-size="6.6" fill="#333" text-anchor="middle">4</text>
<line x1="273.3" y1="234.75" x2="277.5" y2="234.75" stroke="#444" stroke-width="1"/>
<text x="270.4" y="234.75" font-size="6.6" fill="#333" text-anchor="middle" transform="rotate(-90 270.4 234.75)">2.5</text>
<line x1="273.3" y1="259.50" x2="277.5" y2="259.50" stroke="#444" stroke-width="1"/>
<text x="270.4" y="259.5" font-size="6.6" fill="#333" text-anchor="middle" transform="rotate(-90 270.4 259.5)">0.0</text>
<line x1="273.3" y1="284.25" x2="277.5" y2="284.25" stroke="#444" stroke-width="1"/>
<text x="270.4" y="284.25" font-size="6.6" fill="#333" text-anchor="middle" transform="rotate(-90 270.4 284.25)">-2.5</text>
<line x1="273.3" y1="309.00" x2="277.5" y2="309.00" stroke="#444" stroke-width="1"/>
<text x="270.4" y="309.0" font-size="6.6" fill="#333" text-anchor="middle" transform="rotate(-90 270.4 309.0)">-5</text>
<line x1="273.3" y1="333.75" x2="277.5" y2="333.75" stroke="#444" stroke-width="1"/>
<text x="270.4" y="333.75" font-size="6.6" fill="#333" text-anchor="middle" transform="rotate(-90 270.4 333.75)">-7.5</text>
<text x="373.6" y="357.9" font-size="7.2" fill="#333" text-anchor="middle" textLength="54.5" lengthAdjust="spacingAndGlyphs">Component 1 (8%)</text>
<text x="261.0" y="279.5" font-size="7.2" fill="#333" text-anchor="middle" textLength="59.0" lengthAdjust="spacingAndGlyphs" transform="rotate(-90 261.0 279.5)">Component 2 (17%)</text>
<text x="491.3" y="194.3" font-size="12.5" fill="#222" text-anchor="start" stroke="#222" stroke-width="0.25">e</text>
<clipPath id="ce"><rect x="489.7" y="213.3" width="191.90000000000003" height="125.5"/></clipPath>
<g clip-path="url(#ce)">
<rect x="489.7" y="213.3" width="191.90000000000003" height="125.5" fill="#f8dcda"/>
<polygon points="487.70,212.30 683.60,212.30 683.60,223.50 487.70,340.00" fill="#d5d7ec"/>
<line x1="499.28" y1="213.3" x2="499.28" y2="338.8" stroke="rgba(110,100,110,0.055)" stroke-width="0.8"/>
<line x1="522.21" y1="213.3" x2="522.21" y2="338.8" stroke="rgba(110,100,110,0.055)" stroke-width="0.8"/>
<line x1="545.14" y1="213.3" x2="545.14" y2="338.8" stroke="rgba(110,100,110,0.055)" stroke-width="0.8"/>
<line x1="568.07" y1="213.3" x2="568.07" y2="338.8" stroke="rgba(110,100,110,0.055)" stroke-width="0.8"/>
<line x1="591.00" y1="213.3" x2="591.00" y2="338.8" stroke="rgba(110,100,110,0.055)" stroke-width="0.8"/>
<line x1="613.93" y1="213.3" x2="613.93" y2="338.8" stroke="rgba(110,100,110,0.055)" stroke-width="0.8"/>
<line x1="636.86" y1="213.3" x2="636.86" y2="338.8" stroke="rgba(110,100,110,0.055)" stroke-width="0.8"/>
<line x1="659.79" y1="213.3" x2="659.79" y2="338.8" stroke="rgba(110,100,110,0.055)" stroke-width="0.8"/>
<line x1="682.72" y1="213.3" x2="682.72" y2="338.8" stroke="rgba(110,100,110,0.055)" stroke-width="0.8"/>
<line x1="489.7" y1="338.20" x2="681.6" y2="338.20" stroke="rgba(110,100,110,0.055)" stroke-width="0.8"/>
<line x1="489.7" y1="314.40" x2="681.6" y2="314.40" stroke="rgba(110,100,110,0.055)" stroke-width="0.8"/>
<line x1="489.7" y1="290.60" x2="681.6" y2="290.60" stroke="rgba(110,100,110,0.055)" stroke-width="0.8"/>
<line x1="489.7" y1="266.80" x2="681.6" y2="266.80" stroke="rgba(110,100,110,0.055)" stroke-width="0.8"/>
<line x1="489.7" y1="243.00" x2="681.6" y2="243.00" stroke="rgba(110,100,110,0.055)" stroke-width="0.8"/>
<line x1="489.7" y1="219.20" x2="681.6" y2="219.20" stroke="rgba(110,100,110,0.055)" stroke-width="0.8"/>
<polyline points="487.70,340.00 683.60,223.50" fill="none" stroke="#fff" stroke-width="1.2" stroke-linejoin="miter"/>
<rect x="563.95" y="260.75" width="1.5" height="1.5" fill="#2f4fa8"/>
<rect x="526.25" y="271.05" width="1.5" height="1.5" fill="#2f4fa8"/>
<rect x="508.75" y="280.75" width="1.5" height="1.5" fill="#2f4fa8"/>
<rect x="518.45" y="283.25" width="1.5" height="1.5" fill="#2f4fa8"/>
<rect x="524.65" y="284.65" width="1.5" height="1.5" fill="#2f4fa8"/>
<rect x="508.15" y="292.85" width="1.5" height="1.5" fill="#2f4fa8"/>
<rect x="497.85" y="294.95" width="1.5" height="1.5" fill="#2f4fa8"/>
<rect x="668.05" y="221.75" width="1.5" height="1.5" fill="#e8202a"/>
<rect x="639.95" y="270.45" width="1.5" height="1.5" fill="#e8202a"/>
<rect x="672.45" y="273.95" width="1.5" height="1.5" fill="#e8202a"/>
<rect x="620.55" y="294.15" width="1.5" height="1.5" fill="#e8202a"/>
<rect x="617.55" y="298.55" width="1.5" height="1.5" fill="#e8202a"/>
<rect x="620.15" y="300.15" width="1.5" height="1.5" fill="#e8202a"/>
<rect x="605.35" y="300.55" width="1.5" height="1.5" fill="#e8202a"/>
<rect x="606.35" y="303.25" width="1.5" height="1.5" fill="#e8202a"/>
<rect x="594.65" y="305.15" width="1.5" height="1.5" fill="#e8202a"/>
<rect x="626.15" y="307.75" width="1.5" height="1.5" fill="#e8202a"/>
<rect x="617.95" y="311.65" width="1.5" height="1.5" fill="#e8202a"/>
<rect x="642.65" y="311.75" width="1.5" height="1.5" fill="#e8202a"/>
<rect x="587.45" y="328.75" width="1.5" height="1.5" fill="#e8202a"/>
<rect x="606.35" y="329.05" width="1.5" height="1.5" fill="#e8202a"/>
<rect x="613.75" y="332.95" width="1.5" height="1.5" fill="#e8202a"/>
<rect x="495.3" y="304.2" width="22.900000000000034" height="14.400000000000034" fill="#fff" stroke="#666" stroke-width="0.9"/>
<text x="506.75" y="313.9" font-size="7.0" fill="#222" text-anchor="middle">Low</text>
<rect x="655.3" y="317.6" width="22.700000000000045" height="13.599999999999966" fill="#fff" stroke="#666" stroke-width="0.9"/>
<text x="666.65" y="326.9" font-size="7.0" fill="#222" text-anchor="middle">High</text>
</g>
<rect x="489.7" y="213.3" width="191.90000000000003" height="125.5" fill="none" stroke="#444" stroke-width="1.1"/>
<rect x="489.7" y="198.4" width="191.90000000000003" height="14.900000000000006" fill="#e0e1e3" stroke="#666" stroke-width="1"/>
<text x="585.65" y="208.95000000000002" font-size="7.7" fill="#222" text-anchor="middle" textLength="69.5" lengthAdjust="spacingAndGlyphs">HAI at D49 (PLS-DA)</text>
<line x1="499.28" y1="338.8" x2="499.28" y2="343.1" stroke="#444" stroke-width="1"/>
<text x="499.28" y="349.6" font-size="6.6" fill="#333" text-anchor="middle">-4</text>
<line x1="545.14" y1="338.8" x2="545.14" y2="343.1" stroke="#444" stroke-width="1"/>
<text x="545.14" y="349.6" font-size="6.6" fill="#333" text-anchor="middle">-2</text>
<line x1="591.00" y1="338.8" x2="591.00" y2="343.1" stroke="#444" stroke-width="1"/>
<text x="591.0" y="349.6" font-size="6.6" fill="#333" text-anchor="middle">0</text>
<line x1="636.86" y1="338.8" x2="636.86" y2="343.1" stroke="#444" stroke-width="1"/>
<text x="636.86" y="349.6" font-size="6.6" fill="#333" text-anchor="middle">2</text>
<line x1="485.5" y1="243.00" x2="489.7" y2="243.00" stroke="#444" stroke-width="1"/>
<text x="485.09999999999997" y="245.7" font-size="6.8" fill="#333" text-anchor="end">5</text>
<line x1="485.5" y1="290.60" x2="489.7" y2="290.60" stroke="#444" stroke-width="1"/>
<text x="485.09999999999997" y="293.3" font-size="6.8" fill="#333" text-anchor="end">0</text>
<line x1="485.5" y1="338.20" x2="489.7" y2="338.20" stroke="#444" stroke-width="1"/>
<text x="485.09999999999997" y="340.9" font-size="6.8" fill="#333" text-anchor="end">-5</text>
<text x="596.3" y="357.9" font-size="7.2" fill="#333" text-anchor="middle" textLength="58.6" lengthAdjust="spacingAndGlyphs">Component 1 (10%)</text>
<text x="477.6" y="267.3" font-size="7.2" fill="#333" text-anchor="middle" textLength="59.0" lengthAdjust="spacingAndGlyphs" transform="rotate(-90 477.6 267.3)">Component 2 (13%)</text>
<text x="2.2" y="192.6" font-size="12.5" fill="#222" text-anchor="start" stroke="#222" stroke-width="0.3">f</text>
<polygon points="28.90,318.19 34.25,317.00 39.59,315.81 44.94,314.61 50.28,313.41 55.63,312.21 60.98,311.00 66.32,309.79 71.67,308.57 77.02,307.34 82.36,306.10 87.71,304.86 93.06,303.59 98.40,302.32 103.75,301.03 109.09,299.71 114.44,298.37 119.79,297.00 125.13,295.61 130.48,294.17 135.82,292.70 141.17,291.19 146.52,289.65 151.86,288.07 157.21,286.46 162.56,284.82 167.90,283.16 173.25,281.47 178.59,279.77 183.94,278.05 189.29,276.32 194.63,274.58 199.98,272.83 205.33,271.07 210.67,269.30 216.02,267.53 221.36,265.75 226.71,263.97 232.06,262.19 237.40,260.40 242.75,258.61 242.75,272.99 237.40,274.18 232.06,275.37 226.71,276.57 221.36,277.77 216.02,278.97 210.67,280.18 205.33,281.39 199.98,282.61 194.63,283.84 189.29,285.08 183.94,286.33 178.59,287.59 173.25,288.87 167.90,290.16 162.56,291.48 157.21,292.82 151.86,294.19 146.52,295.59 141.17,297.03 135.82,298.50 130.48,300.01 125.13,301.55 119.79,303.14 114.44,304.75 109.09,306.39 103.75,308.05 98.40,309.74 93.06,311.45 87.71,313.16 82.36,314.90 77.02,316.64 71.67,318.39 66.32,320.15 60.98,321.92 55.63,323.69 50.28,325.47 44.94,327.25 39.59,329.03 34.25,330.82 28.90,332.61" fill="#d5d5d5"/>
<line x1="28.9" y1="325.40" x2="242.75" y2="265.80" stroke="#3a3a3a" stroke-width="0.9"/>
<rect x="27.85" y="309.35" width="1.5" height="1.5" fill="#8f8f8f"/>
<rect x="39.55" y="307.25" width="1.5" height="1.5" fill="#8f8f8f"/>
<rect x="52.25" y="303.25" width="1.5" height="1.5" fill="#8f8f8f"/>
<rect x="63.45" y="299.15" width="1.5" height="1.5" fill="#8f8f8f"/>
<rect x="79.35" y="295.15" width="1.5" height="1.5" fill="#8f8f8f"/>
<rect x="94.25" y="295.15" width="1.5" height="1.5" fill="#8f8f8f"/>
<rect x="92.45" y="298.25" width="1.5" height="1.5" fill="#8f8f8f"/>
<rect x="91.35" y="303.05" width="1.5" height="1.5" fill="#8f8f8f"/>
<rect x="79.85" y="304.55" width="1.5" height="1.5" fill="#8f8f8f"/>
<rect x="56.75" y="310.25" width="1.5" height="1.5" fill="#8f8f8f"/>
<rect x="51.65" y="313.05" width="1.5" height="1.5" fill="#8f8f8f"/>
<rect x="67.55" y="310.85" width="1.5" height="1.5" fill="#8f8f8f"/>
<rect x="72.05" y="309.35" width="1.5" height="1.5" fill="#8f8f8f"/>
<rect x="96.45" y="312.25" width="1.5" height="1.5" fill="#8f8f8f"/>
<rect x="111.35" y="283.95" width="1.5" height="1.5" fill="#8f8f8f"/>
<rect x="123.15" y="283.95" width="1.5" height="1.5" fill="#8f8f8f"/>
<rect x="137.35" y="281.45" width="1.5" height="1.5" fill="#8f8f8f"/>
<rect x="143.55" y="278.65" width="1.5" height="1.5" fill="#8f8f8f"/>
<rect x="147.45" y="279.85" width="1.5" height="1.5" fill="#8f8f8f"/>
<rect x="156.05" y="278.65" width="1.5" height="1.5" fill="#8f8f8f"/>
<rect x="134.15" y="288.55" width="1.5" height="1.5" fill="#8f8f8f"/>
<rect x="107.75" y="293.65" width="1.5" height="1.5" fill="#8f8f8f"/>
<rect x="120.45" y="292.75" width="1.5" height="1.5" fill="#8f8f8f"/>
<rect x="127.65" y="295.45" width="1.5" height="1.5" fill="#8f8f8f"/>
<rect x="121.35" y="296.75" width="1.5" height="1.5" fill="#8f8f8f"/>
<rect x="95.15" y="295.15" width="1.5" height="1.5" fill="#8f8f8f"/>
<rect x="146.55" y="293.35" width="1.5" height="1.5" fill="#8f8f8f"/>
<rect x="154.75" y="296.95" width="1.5" height="1.5" fill="#8f8f8f"/>
<rect x="131.25" y="301.45" width="1.5" height="1.5" fill="#8f8f8f"/>
<rect x="122.25" y="304.15" width="1.5" height="1.5" fill="#8f8f8f"/>
<rect x="111.75" y="305.45" width="1.5" height="1.5" fill="#8f8f8f"/>
<rect x="143.85" y="302.15" width="1.5" height="1.5" fill="#8f8f8f"/>
<rect x="137.25" y="306.35" width="1.5" height="1.5" fill="#8f8f8f"/>
<rect x="152.95" y="301.25" width="1.5" height="1.5" fill="#8f8f8f"/>
<rect x="154.35" y="302.35" width="1.5" height="1.5" fill="#8f8f8f"/>
<rect x="165.55" y="290.95" width="1.5" height="1.5" fill="#8f8f8f"/>
<rect x="170.05" y="291.55" width="1.5" height="1.5" fill="#8f8f8f"/>
<rect x="171.55" y="294.55" width="1.5" height="1.5" fill="#8f8f8f"/>
<rect x="168.75" y="302.15" width="1.5" height="1.5" fill="#8f8f8f"/>
<rect x="172.25" y="307.25" width="1.5" height="1.5" fill="#8f8f8f"/>
<rect x="153.85" y="309.95" width="1.5" height="1.5" fill="#8f8f8f"/>
<rect x="142.95" y="310.25" width="1.5" height="1.5" fill="#8f8f8f"/>
<rect x="117.35" y="311.35" width="1.5" height="1.5" fill="#8f8f8f"/>
<rect x="118.65" y="314.85" width="1.5" height="1.5" fill="#8f8f8f"/>
<rect x="124.95" y="314.85" width="1.5" height="1.5" fill="#8f8f8f"/>
<rect x="162.35" y="285.05" width="1.5" height="1.5" fill="#8f8f8f"/>
<rect x="222.65" y="279.45" width="1.5" height="1.5" fill="#8f8f8f"/>
<rect x="228.05" y="279.45" width="1.5" height="1.5" fill="#8f8f8f"/>
<rect x="191.45" y="280.75" width="1.5" height="1.5" fill="#8f8f8f"/>
<rect x="198.85" y="282.35" width="1.5" height="1.5" fill="#8f8f8f"/>
<rect x="173.55" y="287.25" width="1.5" height="1.5" fill="#8f8f8f"/>
<rect x="165.85" y="290.65" width="1.5" height="1.5" fill="#8f8f8f"/>
<rect x="181.15" y="289.55" width="1.5" height="1.5" fill="#8f8f8f"/>
<rect x="194.45" y="289.15" width="1.5" height="1.5" fill="#8f8f8f"/>
<rect x="171.45" y="294.35" width="1.5" height="1.5" fill="#8f8f8f"/>
<rect x="180.35" y="296.15" width="1.5" height="1.5" fill="#8f8f8f"/>
<rect x="214.85" y="293.65" width="1.5" height="1.5" fill="#8f8f8f"/>
<rect x="202.15" y="301.75" width="1.5" height="1.5" fill="#8f8f8f"/>
<rect x="172.05" y="307.05" width="1.5" height="1.5" fill="#8f8f8f"/>
<rect x="44.8" y="325.9" width="2" height="2" fill="#2d4fb0"/>
<rect x="67.7" y="321.4" width="2" height="2" fill="#2d4fb0"/>
<rect x="72.4" y="323.8" width="2" height="2" fill="#2d4fb0"/>
<rect x="81.4" y="315.6" width="2" height="2" fill="#2d4fb0"/>
<rect x="83.2" y="316.9" width="2" height="2" fill="#2d4fb0"/>
<rect x="90.4" y="316.0" width="2" height="2" fill="#2d4fb0"/>
<rect x="108.4" y="316.0" width="2" height="2" fill="#2d4fb0"/>
<rect x="124.7" y="316.4" width="2" height="2" fill="#2d4fb0"/>
<rect x="128.8" y="317.3" width="2" height="2" fill="#2d4fb0"/>
<rect x="241.9" y="203.4" width="1.8" height="1.8" fill="#e8202a"/>
<rect x="209.4" y="248.0" width="1.8" height="1.8" fill="#e8202a"/>
<rect x="195.2" y="251.29999999999998" width="1.8" height="1.8" fill="#e8202a"/>
<rect x="226.7" y="255.0" width="1.8" height="1.8" fill="#e8202a"/>
<rect x="178.1" y="262.6" width="1.8" height="1.8" fill="#e8202a"/>
<rect x="205.0" y="266.0" width="1.8" height="1.8" fill="#e8202a"/>
<rect x="167.4" y="274.70000000000005" width="1.8" height="1.8" fill="#e8202a"/>
<rect x="183.6" y="276.3" width="1.8" height="1.8" fill="#e8202a"/>
<rect x="213.29999999999998" y="273.0" width="1.8" height="1.8" fill="#e8202a"/>
<rect x="134.0" y="275.1" width="1.8" height="1.8" fill="#e8202a"/>
<rect x="161.2" y="266.20000000000005" width="1.8" height="1.8" fill="#e8202a"/>
<rect x="160.4" y="271.3" width="1.8" height="1.8" fill="#e8202a"/>
<line x1="27.2" y1="198.3" x2="27.2" y2="341.5" stroke="#666" stroke-width="1"/>
<line x1="27.2" y1="341.3" x2="240.5" y2="339.4" stroke="#333" stroke-width="1.1"/>
<line x1="22.4" y1="203.3" x2="27" y2="203.3" stroke="#444" stroke-width="0.9"/>
<text x="20.4" y="203.3" font-size="5.8" fill="#444" text-anchor="middle" textLength="18.6" lengthAdjust="spacingAndGlyphs" transform="rotate(-90 20.4 203.3)">100 000</text>
<line x1="22.4" y1="235.6" x2="27" y2="235.6" stroke="#444" stroke-width="0.9"/>
<text x="20.4" y="235.6" font-size="5.8" fill="#444" text-anchor="middle" textLength="16.3" lengthAdjust="spacingAndGlyphs" transform="rotate(-90 20.4 235.6)">75 000</text>
<line x1="22.4" y1="268.3" x2="27" y2="268.3" stroke="#444" stroke-width="0.9"/>
<text x="20.4" y="268.3" font-size="5.8" fill="#444" text-anchor="middle" textLength="16.3" lengthAdjust="spacingAndGlyphs" transform="rotate(-90 20.4 268.3)">50 000</text>
<line x1="22.4" y1="300.3" x2="27" y2="300.3" stroke="#444" stroke-width="0.9"/>
<text x="20.4" y="300.3" font-size="5.8" fill="#444" text-anchor="middle" textLength="16.3" lengthAdjust="spacingAndGlyphs" transform="rotate(-90 20.4 300.3)">25 000</text>
<line x1="22.4" y1="332.5" x2="27" y2="332.5" stroke="#444" stroke-width="0.9"/>
<text x="20.4" y="332.5" font-size="5.8" fill="#444" text-anchor="middle" transform="rotate(-90 20.4 332.5)">0</text>
<line x1="50.4" y1="341.09" x2="50.4" y2="344.49" stroke="#444" stroke-width="0.9"/>
<text x="50.4" y="349.9" font-size="5.8" fill="#444" text-anchor="middle" textLength="15.8" lengthAdjust="spacingAndGlyphs">10 000</text>
<line x1="96.3" y1="340.68" x2="96.3" y2="344.08" stroke="#444" stroke-width="0.9"/>
<text x="96.3" y="349.9" font-size="5.8" fill="#444" text-anchor="middle" textLength="15.8" lengthAdjust="spacingAndGlyphs">20 000</text>
<line x1="142.6" y1="340.27" x2="142.6" y2="343.67" stroke="#444" stroke-width="0.9"/>
<text x="142.6" y="349.9" font-size="5.8" fill="#444" text-anchor="middle" textLength="15.8" lengthAdjust="spacingAndGlyphs">30 000</text>
<line x1="189.2" y1="339.86" x2="189.2" y2="343.26" stroke="#444" stroke-width="0.9"/>
<text x="189.2" y="349.9" font-size="5.8" fill="#444" text-anchor="middle" textLength="15.8" lengthAdjust="spacingAndGlyphs">40 000</text>
<line x1="235.5" y1="339.44" x2="235.5" y2="342.84" stroke="#444" stroke-width="0.9"/>
<text x="235.5" y="349.9" font-size="5.8" fill="#444" text-anchor="middle" textLength="15.8" lengthAdjust="spacingAndGlyphs">50 000</text>
<text x="139.9" y="358.6" font-size="7.4" fill="#333" text-anchor="middle" textLength="111.6" lengthAdjust="spacingAndGlyphs">Predicted IAV-specific IgG level at D63</text>
<text x="7.9" y="266.0" font-size="7.5" fill="#333" text-anchor="middle" textLength="124.0" lengthAdjust="spacingAndGlyphs" transform="rotate(-90 7.9 266.0)">Measured IAV specific IgG level at D63</text>
</svg></body></html>
